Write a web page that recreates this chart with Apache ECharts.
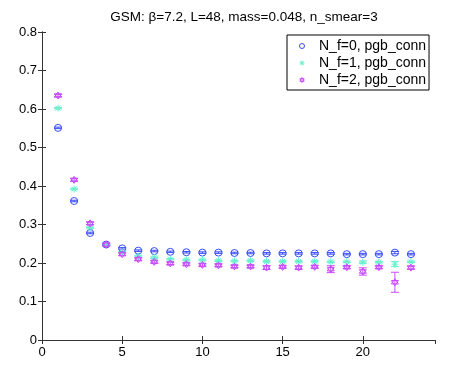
<!DOCTYPE html>
<html><head><meta charset="utf-8">
<script src="https://cdn.jsdelivr.net/npm/echarts@6/dist/echarts.min.js"></script>
<style>html,body{margin:0;padding:0;background:#fff}#c{width:454px;height:378px}</style>
</head><body><div id="c"></div>
<script>
const titleText = 'GSM: β=7.2, L=48, mass=0.048, n_smear=3';
const seriesNames = ['N_f=0, pgb_conn', 'N_f=1, pgb_conn', 'N_f=2, pgb_conn'];
const xVals = [1,2,3,4,5,6,7,8,9,10,11,12,13,14,15,16,17,18,19,20,21,22,23];
const nf0 = [0.551,0.361,0.278,0.248,0.238,0.232,0.231,0.229,0.228,0.227,0.227,0.226,0.226,0.225,0.225,0.225,0.225,0.225,0.223,0.223,0.223,0.227,0.223];
const nf0Err = [0.002,0.002,0.002,0.002,0.002,0.002,0.002,0.002,0.002,0.002,0.002,0.002,0.002,0.002,0.002,0.002,0.002,0.002,0.002,0.002,0.002,0.003,0.002];
const nf1 = [0.602,0.392,0.292,0.248,0.228,0.218,0.214,0.210,0.208,0.208,0.206,0.205,0.206,0.204,0.204,0.204,0.204,0.203,0.203,0.202,0.202,0.197,0.203];
const nf1Err = [0.002,0.002,0.002,0.002,0.002,0.002,0.002,0.002,0.002,0.002,0.002,0.002,0.002,0.002,0.002,0.002,0.002,0.002,0.002,0.003,0.002,0.0065,0.002];
const nf2 = [0.635,0.416,0.303,0.248,0.223,0.210,0.203,0.199,0.197,0.195,0.194,0.191,0.191,0.188,0.190,0.188,0.190,0.184,0.189,0.178,0.189,0.150,0.188];
const nf2Err = [0.003,0.003,0.003,0.003,0.003,0.003,0.003,0.003,0.003,0.003,0.003,0.003,0.003,0.005,0.003,0.004,0.003,0.009,0.003,0.0095,0.003,0.026,0.004];
const xTicks = {min:0, max:24.5, interval:5};
const yTicks = {min:0, max:0.8, interval:0.1};

const colors = ['#3a4dff', '#66f0cc', '#c94aff'];
const asterisk = 'path://M5,0L5,10M0,5L10,5M1.5,1.5L8.5,8.5M1.5,8.5L8.5,1.5';
const hexagram = 'path://M5,0L9.33,7.5L0.67,7.5Z M5,10L0.67,2.5L9.33,2.5Z';
const symbols = ['circle', asterisk, hexagram];
const sizes = [7, 7, 7];
const datasets = [[nf0,nf0Err],[nf1,nf1Err],[nf2,nf2Err]];

function errSeries(i){
  const [v,e] = datasets[i];
  return {
    type:'custom', name:'err'+i, silent:true, z:2,
    data: xVals.map((x,k)=>[x, v[k], e[k]]),
    renderItem:function(params, api){
      const x = api.value(0), y = api.value(1), er = api.value(2);
      const top = api.coord([x, y+er]), bot = api.coord([x, y-er]);
      const hw = 4;
      const st = {stroke: colors[i], lineWidth: 1, fill:'none'};
      return {type:'group', children:[
        {type:'line', shape:{x1:top[0],y1:top[1],x2:bot[0],y2:bot[1]}, style:st},
        {type:'line', shape:{x1:top[0]-hw,y1:top[1],x2:top[0]+hw,y2:top[1]}, style:st},
        {type:'line', shape:{x1:bot[0]-hw,y1:bot[1],x2:bot[0]+hw,y2:bot[1]}, style:st}
      ]};
    }
  };
}
function ptSeries(i){
  const [v] = datasets[i];
  return {
    type:'scatter', name: seriesNames[i], z:3,
    data: xVals.map((x,k)=>[x, v[k]]),
    symbol: symbols[i], symbolSize: sizes[i],
    itemStyle:{color:'none', borderColor: colors[i], borderWidth:1, opacity:1},
    emphasis:{disabled:true}
  };
}
const axisCommon = {
  axisLine:{show:true, lineStyle:{color:'#333', width:1}},
  axisTick:{show:true, inside:true, length:4, lineStyle:{color:'#333'}},
  splitLine:{show:false}
};
const font = 'Liberation Sans, Arial, sans-serif';
const chart = echarts.init(document.getElementById('c'), null, {renderer:'canvas'});
chart.setOption({
  animation:false,
  backgroundColor:'#fff',
  title:{text:titleText, left:239, textAlign:'center', top:5,
    textStyle:{fontFamily:font, fontSize:13.5, fontWeight:'normal', color:'#000'}},
  grid:{left:42, right:19, top:32, bottom:38, containLabel:false},
  legend:{
    data: seriesNames, orient:'vertical', left:287, top:35,
    backgroundColor:'#fff', borderColor:'#000', borderWidth:1, borderRadius:0,
    padding:[4,3,3,10], itemGap:3, itemWidth:16, itemHeight:5,
    itemStyle:{borderWidth:1},
    textStyle:{fontFamily:font, fontSize:14, color:'#000', padding:[0,0,0,4]},
    selectedMode:false
  },
  xAxis:[
    Object.assign({type:'value', position:'bottom', min:xTicks.min, max:xTicks.max, interval:xTicks.interval,
      axisLabel:{showMaxLabel:false, color:'#000', fontFamily:font, fontSize:13, margin:6}}, axisCommon),
    Object.assign({type:'value', position:'top', min:xTicks.min, max:xTicks.max, interval:xTicks.interval,
      axisLabel:{show:false}}, axisCommon)
  ],
  yAxis:[
    Object.assign({type:'value', position:'left', min:yTicks.min, max:yTicks.max, interval:yTicks.interval,
      axisLabel:{color:'#000', fontFamily:font, fontSize:13, margin:5,
        formatter:v=> v===0?'0':(+v).toFixed(1)}}, axisCommon),
    Object.assign({type:'value', position:'right', min:yTicks.min, max:yTicks.max, interval:yTicks.interval,
      axisLabel:{show:false}}, axisCommon)
  ],
  series:[errSeries(0), ptSeries(0), errSeries(1), ptSeries(1), errSeries(2), ptSeries(2)]
});
</script></body></html>
